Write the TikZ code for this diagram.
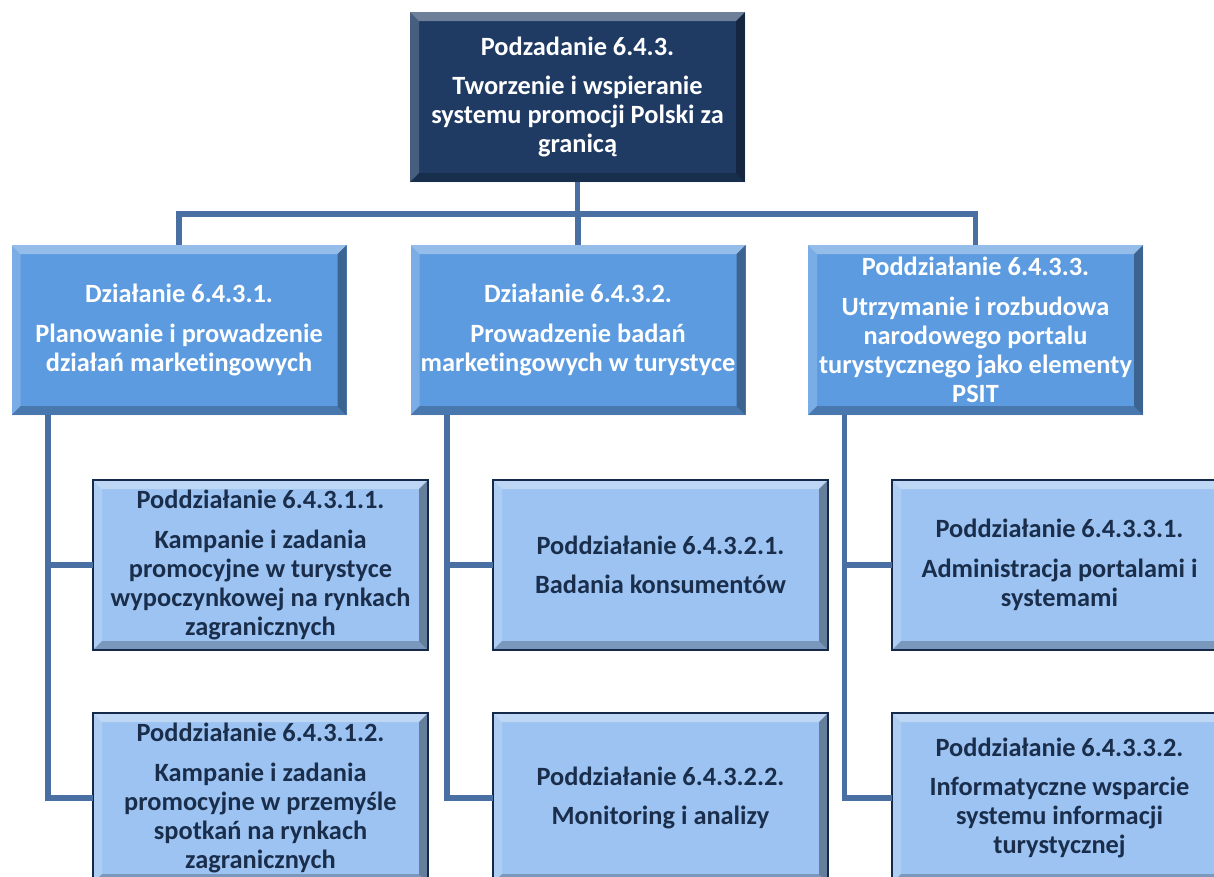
\documentclass[tikz,border=0pt]{standalone}
\usepackage{fontspec}
\setmainfont{Carlito}[Ligatures=NoCommon]
\usetikzlibrary{positioning}

\definecolor{topfill}{HTML}{1F3B63}
\definecolor{midfill}{HTML}{5D9BE0}
\definecolor{lowfill}{HTML}{9CC3F1}
\definecolor{lowtext}{HTML}{1A2E4C}
\definecolor{lowedge}{HTML}{16294A}
\definecolor{linkcol}{HTML}{4A70A3}

\newcommand{\boxfont}{\fontsize{15}{16.5}\selectfont\bfseries}

\tikzset{
  bevelled/.style={path picture={
    \fill[white,opacity=0.35] (path picture bounding box.north west) -- (path picture bounding box.north east)
      -- ([shift={(-#1,-#1)}]path picture bounding box.north east) -- ([shift={(#1,-#1)}]path picture bounding box.north west) -- cycle;
    \fill[white,opacity=0.18] (path picture bounding box.north west) -- (path picture bounding box.south west)
      -- ([shift={(#1,#1)}]path picture bounding box.south west) -- ([shift={(#1,-#1)}]path picture bounding box.north west) -- cycle;
    \fill[black,opacity=0.35] (path picture bounding box.north east) -- (path picture bounding box.south east)
      -- ([shift={(-#1,#1)}]path picture bounding box.south east) -- ([shift={(-#1,-#1)}]path picture bounding box.north east) -- cycle;
    \fill[black,opacity=0.22] (path picture bounding box.south west) -- (path picture bounding box.south east)
      -- ([shift={(-#1,#1)}]path picture bounding box.south east) -- ([shift={(#1,#1)}]path picture bounding box.south west) -- cycle;
  }},
  orgbox/.style={rectangle, minimum width=6.7cm, minimum height=3.4cm, inner sep=0pt, outer sep=0pt,
    align=center, font=\boxfont},
  topbox/.style={orgbox, fill=topfill, text=white, bevelled=0.18cm},
  midbox/.style={orgbox, fill=midfill, text=white, bevelled=0.18cm},
  lowbox/.style={orgbox, fill=lowfill, text=lowtext, draw=lowedge, line width=1.5pt, bevelled=0.18cm},
  linkline/.style={draw=linkcol, line width=3.3pt},
}

\begin{document}
\begin{tikzpicture}
\path[use as bounding box] (0,0) rectangle (24.28,-17.52);
\clip (0,0) rectangle (24.28,-17.52);

% main task
\node[topbox] (podz) at (11.55,-1.94) {Podzadanie 6.4.3.\\[6pt]Tworzenie i wspieranie\\systemu promocji Polski za\\granicą};

% actions
\node[midbox] (dz1) at (3.58,-6.6) {Działanie 6.4.3.1.\\[6pt]Planowanie i prowadzenie\\działań marketingowych};
\node[midbox] (dz2) at (11.56,-6.6) {Działanie 6.4.3.2.\\[6pt]Prowadzenie badań\\marketingowych w turystyce};
\node[midbox] (dz3) at (19.51,-6.6) {Poddziałanie 6.4.3.3.\\[6pt]Utrzymanie i rozbudowa\\narodowego portalu\\turystycznego jako elementy\\PSIT};

% sub-actions
\node[lowbox] (pd11) at (5.21,-11.3) {Poddziałanie 6.4.3.1.1.\\[6pt]Kampanie i zadania\\promocyjne w turystyce\\wypoczynkowej na rynkach\\zagranicznych};
\node[lowbox] (pd12) at (5.21,-15.96) {Poddziałanie 6.4.3.1.2.\\[6pt]Kampanie i zadania\\promocyjne w przemyśle\\spotkań na rynkach\\zagranicznych};
\node[lowbox] (pd21) at (13.21,-11.3) {Poddziałanie 6.4.3.2.1.\\[6pt]Badania konsumentów};
\node[lowbox] (pd22) at (13.21,-15.96) {Poddziałanie 6.4.3.2.2.\\[6pt]Monitoring i analizy};
\node[lowbox] (pd31) at (21.19,-11.3) {Poddziałanie 6.4.3.3.1.\\[6pt]Administracja portalami i\\systemami};
\node[lowbox] (pd32) at (21.19,-15.96) {Poddziałanie 6.4.3.3.2.\\[6pt]Informatyczne wsparcie\\systemu informacji\\turystycznej};

% connectors
\coordinate (bus) at (0,-4.28);
\draw[linkline] (podz.south) -- (podz.south |- bus);
\draw[linkline] (dz1.north) -- (dz1.north |- bus) -- (dz3.north |- bus) -- (dz3.north);
\draw[linkline] (dz2.north) -- (dz2.north |- bus);
\foreach \i in {1,2,3}{
  \coordinate (trunk\i) at ([xshift=0.73cm]dz\i.south west);
  \draw[linkline] (trunk\i) |- (pd\i2.west);
  \draw[linkline] (trunk\i |- pd\i1.west) -- (pd\i1.west);
}
\end{tikzpicture}
\end{document}
